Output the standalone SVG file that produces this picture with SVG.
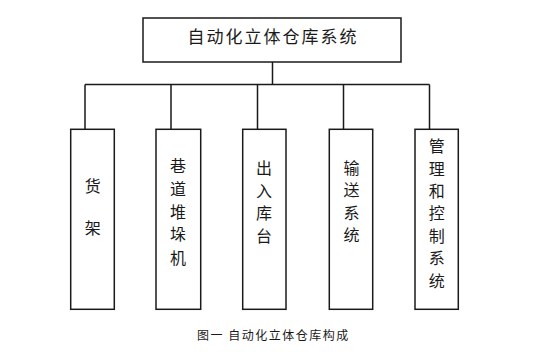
<svg xmlns="http://www.w3.org/2000/svg" width="545" height="352" viewBox="0 0 545 352">
<style>
.box{fill:#fff;stroke:#1a1a1a;stroke-width:1.5}
.ln{fill:none;stroke:#1a1a1a;stroke-width:1.5}
.t{font-family:"Noto Sans CJK SC",sans-serif;font-size:16px;fill:#1a1a1a;text-anchor:middle;dominant-baseline:central}
.title{font-family:"Noto Sans CJK SC",sans-serif;font-size:17px;fill:#1a1a1a;text-anchor:middle;dominant-baseline:central;letter-spacing:2px}
.cap{font-family:"Noto Sans CJK SC",sans-serif;font-size:12px;fill:#1a1a1a;dominant-baseline:central;letter-spacing:1.5px}
</style>
<rect width="545" height="352" fill="#fff"/>
<g id="connectors">
<path class="ln" d="M272.5 62V84.5M85 84.5H429.5M85 84.5V129M171 84.5V129M257.5 84.5V129M343.5 84.5V129M429.5 84.5V129"/>
</g>
<g id="root">
<rect class="box" x="143" y="18" width="258" height="44"/>
<text class="title" x="273" y="35">自动化立体仓库系统</text>
</g>
<g id="n1">
<rect class="box" x="70.7" y="129.3" width="43.6" height="180"/>
<text class="t" x="92.7" y="185">货</text>
<text class="t" x="92.7" y="226.5">架</text>
</g>
<g id="n2">
<rect class="box" x="156" y="129.3" width="44.7" height="180"/>
<text class="t" x="178" y="165">巷</text>
<text class="t" x="178" y="188">道</text>
<text class="t" x="178" y="210.5">堆</text>
<text class="t" x="178" y="233">垛</text>
<text class="t" x="178" y="256.5">机</text>
</g>
<g id="n3">
<rect class="box" x="242.7" y="129.3" width="43.3" height="180"/>
<text class="t" x="264" y="167">出</text>
<text class="t" x="264" y="190">入</text>
<text class="t" x="264" y="212">库</text>
<text class="t" x="264" y="235">台</text>
</g>
<g id="n4">
<rect class="box" x="329.3" y="129.3" width="43.4" height="180"/>
<text class="t" x="351.5" y="166.5">输</text>
<text class="t" x="351.5" y="188.5">送</text>
<text class="t" x="351.5" y="211.5">系</text>
<text class="t" x="351.5" y="234">统</text>
</g>
<g id="n5">
<rect class="box" x="415" y="129.3" width="43.3" height="180"/>
<text class="t" x="436.7" y="145">管</text>
<text class="t" x="436.7" y="168">理</text>
<text class="t" x="436.7" y="190">和</text>
<text class="t" x="436.7" y="212">控</text>
<text class="t" x="436.7" y="235">制</text>
<text class="t" x="436.7" y="257">系</text>
<text class="t" x="436.7" y="280">统</text>
</g>
<text class="cap" x="197" y="334">图一 自动化立体仓库构成</text>
</svg>
